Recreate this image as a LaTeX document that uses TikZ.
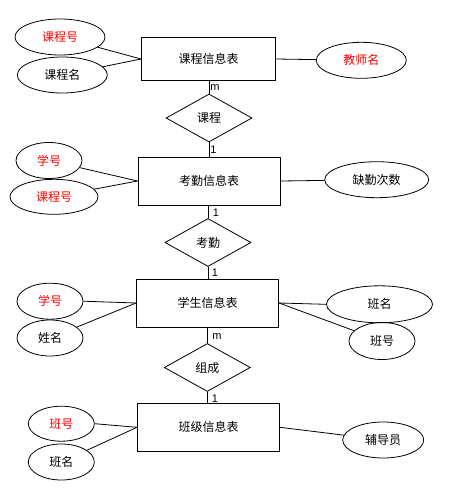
\documentclass[tikz,border=0pt]{standalone}
\usepackage{fontspec}
\newfontfamily\cjk{Noto Sans CJK SC}
\newfontfamily\lab{Liberation Sans}
\usetikzlibrary{shapes.geometric}
\begin{document}
\begin{tikzpicture}[x=1pt,y=-1pt,
  every node/.style={inner sep=0pt,font=\cjk\fontsize{12}{14}\selectfont},
  ent/.style={draw,line width=1pt,rectangle,minimum width=#1,minimum height=48pt},
  attr/.style n args={2}{draw,line width=0.8pt,ellipse,minimum width=#1,minimum height=#2},
  rel/.style={draw,line width=0.8pt,diamond,minimum width=86pt,minimum height=48pt,aspect=1.8},
  card/.style={font=\lab\fontsize{11}{12}\selectfont},
  key/.style={text=red},
  conn/.style={line width=0.8pt}]
\useasboundingbox (0,0) rectangle (450,501);
% entities
\node[ent=134pt,minimum height=43pt] (r1) at (208.5,59) {课程信息表};
\node[ent=142pt] (r2) at (209,181) {考勤信息表};
\node[ent=142pt] (r3) at (207.5,303) {学生信息表};
\node[ent=142pt] (r4) at (208.5,427.3) {班级信息表};
% relationships
\node[rel] (d1) at (209,118) {课程};
\node[rel] (d2) at (208,242.5) {考勤};
\node[rel] (d3) at (207.3,367.5) {组成};
% attributes
\node[attr={90pt}{36pt},key] (a1) at (60,37) {课程号};
\node[attr={90pt}{36pt}] (a2) at (62.3,75) {课程名};
\node[attr={90pt}{36pt},key] (a3) at (361.3,60.3) {教师名};
\node[attr={66pt}{36pt},key] (b1) at (49,160.5) {学号};
\node[attr={88pt}{35pt},key] (b2) at (54,196.8) {课程号};
\node[attr={104pt}{36pt}] (b3) at (376.7,179.7) {缺勤次数};
\node[attr={66pt}{36pt},key] (c1) at (50,301.2) {学号};
\node[attr={66pt}{36pt}] (c2) at (50,338) {姓名};
\node[attr={106pt}{37pt}] (c3) at (379.5,304.3) {班名};
\node[attr={66pt}{37pt}] (c4) at (382,341) {班号};
\node[attr={66pt}{35pt},key] (e1) at (61.3,423.7) {班号};
\node[attr={66pt}{36pt}] (e2) at (61.3,462) {班名};
\node[attr={81pt}{36pt}] (e3) at (383.2,440) {辅导员};
% connectors
\draw[conn] (a1) -- (r1.west);
\draw[conn] (a2) -- (r1.west);
\draw[conn] (r1.east) -- (a3);
\draw[conn] (b1) -- (r2.west);
\draw[conn] (b2) -- (r2.west);
\draw[conn] (r2.east) -- (b3);
\draw[conn] (c1.east) -- (r3.west);
\draw[conn] (c2) -- (r3.west);
\draw[conn] (r3.east) -- (c3.west);
\draw[conn] (r3.east) -- (c4);
\draw[conn] (e1.east) -- (r4.west);
\draw[conn] (e2) -- (r4.west);
\draw[conn] (r4.east) -- (e3);
\draw[conn] (r1.south -| d1.north) -- (d1.north);
\draw[conn] (d1.south) -- (r2.north -| d1.south);
\draw[conn] (r2.south -| d2.north) -- (d2.north);
\draw[conn] (d2.south) -- (r3.north -| d2.south);
\draw[conn] (r3.south -| d3.north) -- (d3.north);
\draw[conn] (d3.south) -- (r4.north -| d3.south);
% cardinalities
\node[card] (m1) at (215,88) {m};
\node[card] (n1) at (213.5,149.5) {1};
\node[card] (n2) at (216,213) {1};
\node[card] (n3) at (215,272.5) {1};
\node[card] (m2) at (217,336.5) {m};
\node[card] (n4) at (215,399) {1};
\end{tikzpicture}
\end{document}
